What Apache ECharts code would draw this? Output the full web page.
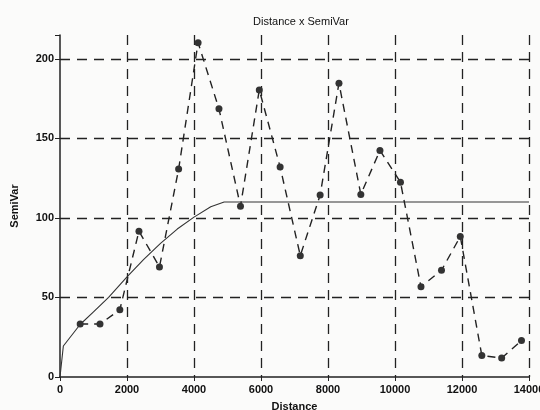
<!DOCTYPE html>
<html><head><meta charset="utf-8">
<script src="https://cdn.jsdelivr.net/npm/echarts@6/dist/echarts.min.js"></script>
<style>html,body{margin:0;padding:0;background:#fbfbfa}#c{width:540px;height:410px}</style>
</head><body><div id="c"></div>
<script>
// Experimental semivariogram points
const distances = [602, 1194, 1786, 2357, 2969, 3541, 4122, 4745, 5388, 5949, 6571, 7173, 7765, 8327, 8980, 9551, 10163, 10776, 11388, 11949, 12592, 13184, 13776];
const semivar   = [33.3, 33.3, 42.3, 91.7, 69.2, 130.7, 210.2, 168.6, 107.4, 180.5, 132, 76.3, 114.4, 184.7, 114.8, 142.4, 122.5, 56.7, 67.1, 88.3, 13.5, 11.9, 22.9];
// Fitted model curve
const modelX = [0, 100, 600, 1000, 1450, 2000, 2500, 3000, 3500, 4000, 4500, 4900, 14000];
const modelY = [0, 19.5, 33, 41, 50, 63, 74, 84, 93, 100.5, 107, 110, 110];
const xTicks = [0, 2000, 4000, 6000, 8000, 10000, 12000, 14000];
const yTicks = [0, 50, 100, 150, 200];

const chart = echarts.init(document.getElementById('c'), null, {renderer: 'canvas'});
const font = 'Liberation Sans, Arial, sans-serif';
chart.setOption({
  backgroundColor: '#fbfbfa',
  animation: false,
  title: {text: 'Distance x SemiVar', left: 296, top: 11, textAlign: 'center',
    textStyle: {fontFamily: font, fontSize: 11, fontWeight: 'normal', color: '#111'}},
  grid: {left: 60, right: 11, top: 35, bottom: 33, outerBoundsMode: 'none', containLabel: false},
  xAxis: {type: 'value', min: 0, max: xTicks[xTicks.length-1], interval: 2000,
    name: 'Distance', nameLocation: 'middle', nameGap: 24,
    nameTextStyle: {fontFamily: font, fontSize: 11, color: '#111', fontWeight: 'bold'},
    axisLine: {show: true, lineStyle: {color: '#222', width: 1.5}},
    axisTick: {show: true, inside: false, length: 4, lineStyle: {color: '#222'}},
    axisLabel: {fontFamily: font, fontSize: 11, color: '#111', fontWeight: 'bold', margin: 7,
      formatter: v => String(v)},
    splitLine: {show: true, showMinLine: false, lineStyle: {color: '#222', type: [10, 7], width: 1.3}}},
  yAxis: {type: 'value', min: 0, max: 215, interval: 50,
    name: 'SemiVar', nameLocation: 'middle', nameGap: 40, nameRotate: 90,
    nameTextStyle: {fontFamily: font, fontSize: 11, color: '#111', fontWeight: 'bold'},
    axisLine: {show: true, lineStyle: {color: '#222', width: 1.5}},
    axisTick: {show: true, length: 5, lineStyle: {color: '#222'}},
    axisLabel: {fontFamily: font, fontSize: 11, color: '#111', fontWeight: 'bold', margin: 6,
      formatter: v => yTicks.indexOf(v) >= 0 ? String(v) : ''},
    splitLine: {show: true, showMinLine: false, showMaxLine: false, lineStyle: {color: '#222', type: [10, 7], width: 1.3}}},
  series: [
    {type: 'line', data: modelX.map((x, i) => [x, modelY[i]]), showSymbol: false, symbol: 'none',
      lineStyle: {color: '#333', width: 1.1}, z: 3},
    {type: 'line', data: distances.map((x, i) => [x, semivar[i]]), symbol: 'circle', symbolSize: 7,
      itemStyle: {color: '#333'}, lineStyle: {color: '#222', width: 1.4, type: [8, 6]}, z: 4}
  ]
});
</script></body></html>
